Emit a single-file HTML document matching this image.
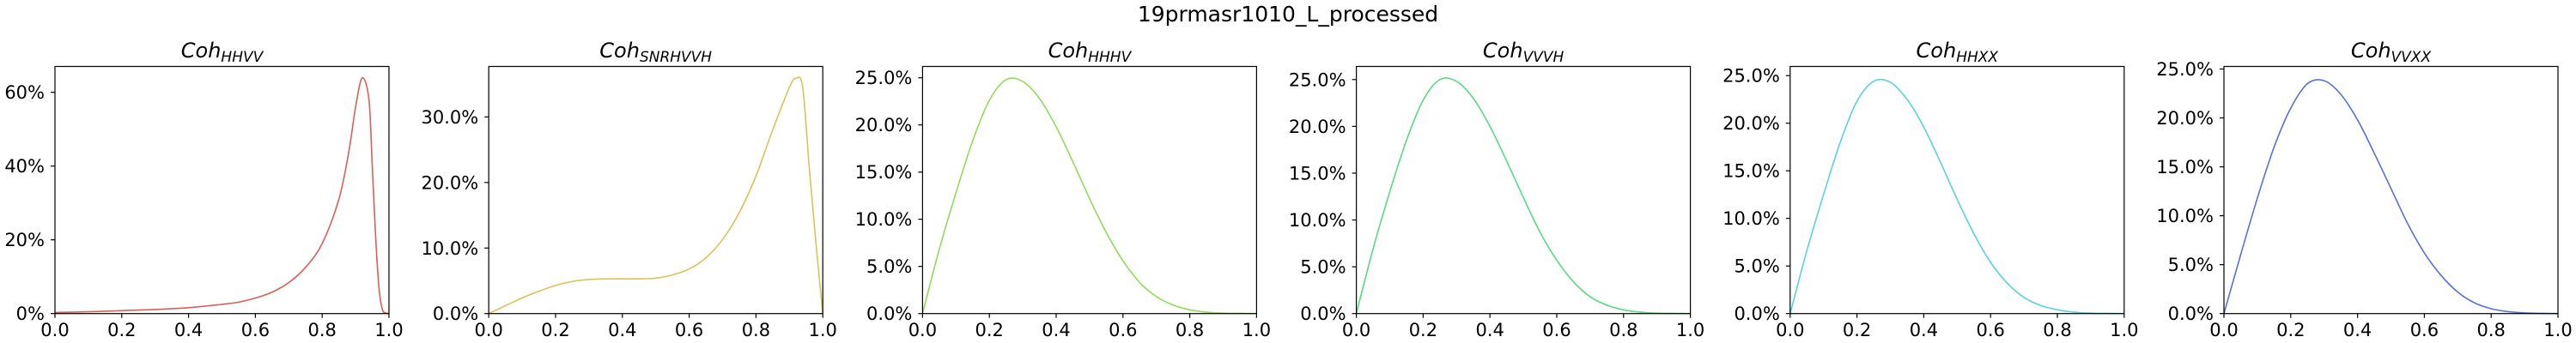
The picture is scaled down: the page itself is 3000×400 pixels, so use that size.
<!DOCTYPE html>
<html><head><meta charset="utf-8">
<style>
html,body{margin:0;padding:0;background:#fff;}
svg{display:block;font-family:"DejaVu Sans","Liberation Sans",sans-serif;}
</style></head>
<body>
<svg id="fig" width="3000" height="400" viewBox="0 0 3000 400" xmlns="http://www.w3.org/2000/svg">
<rect width="3000" height="400" fill="#fff"/>
<text x="1500" y="25" font-size="25" text-anchor="middle">19prmasr1010_L_processed</text>
</svg>
<script>
// --- chart data ---
const panelSubs = ["HHVV","SNRHVVH","HHHV","VVVH","HHXX","VVXX"];
const panelColors = ["#db5f57","#dbc257","#91db57","#57db80","#57d3db","#5770db"];
const yMaxes = [67.0, 37.7, 26.2, 26.4, 25.96, 25.26];
const yTickSets = [[0,20,40,60],[0,10,20,30],[0,5,10,15,20,25],[0,5,10,15,20,25],[0,5,10,15,20,25],[0,5,10,15,20,25]];
const yTickDecimals = [0,1,1,1,1,1];
const xTicks = [0,0.2,0.4,0.6,0.8,1.0];
const xHHVV = [0,0.1,0.2,0.3,0.4,0.5,0.55,0.6,0.65,0.7,0.75,0.8,0.85,0.88,0.9,0.92,0.94,0.95,0.96,0.97,0.98,0.99,1.0];
const yHHVV = [0.3,0.5,0.8,1.1,1.6,2.5,3.1,4.2,5.8,8.4,12.5,19,31,44,56,63.9,58,40,21,7,1.2,0.2,0];
const xSNR = [0,0.05,0.1,0.15,0.2,0.25,0.3,0.35,0.4,0.45,0.5,0.55,0.6,0.65,0.7,0.75,0.8,0.85,0.9,0.92,0.94,0.96,0.98,1.0];
const ySNR = [0,1.2,2.4,3.4,4.3,4.9,5.2,5.3,5.3,5.3,5.4,5.9,6.8,8.5,11.3,15.4,21,28,34.5,35.9,34.5,22,10.5,0];
const xBell = [0,0.05,0.1,0.15,0.2,0.25,0.3,0.35,0.4,0.45,0.5,0.55,0.6,0.65,0.7,0.75,0.8,0.85,0.9,0.95,1.0];
const yHHHV = [0,6.8,12.8,18.3,22.6,24.8,24.6,22.8,19.8,16.1,12.2,8.6,5.6,3.3,1.8,0.9,0.4,0.15,0.05,0.02,0];
const yVVVH = [0,6.9,13.0,18.5,22.8,25.0,24.8,23.0,20.0,16.3,12.4,8.7,5.7,3.4,1.8,0.9,0.4,0.15,0.05,0.02,0];
const yHHXX = [0,6.6,12.5,18.0,22.3,24.4,24.3,22.5,19.6,15.9,12.0,8.4,5.4,3.2,1.7,0.85,0.4,0.15,0.05,0.02,0];
const yVVXX = [0,6.0,11.8,17.0,21.0,23.5,23.8,22.4,19.8,16.4,12.8,9.2,6.2,3.9,2.2,1.1,0.5,0.2,0.07,0.02,0];
const seriesX = [xHHVV, xSNR, xBell, xBell, xBell, xBell];
const seriesY = [yHHVV, ySNR, yHHHV, yVVVH, yHHXX, yVVXX];

const NS = "http://www.w3.org/2000/svg";
const svg = document.getElementById('fig');
const AX_LEFT0 = 64, AX_STEP = 505.2, AX_W = 389, AX_TOP = 77.5, AX_BOT = 365.7;
function mk(tag, attrs, parent){const e=document.createElementNS(NS,tag);for(const k in attrs)e.setAttribute(k,attrs[k]);(parent||svg).appendChild(e);return e;}
function catmull(pts){
  let d="M"+pts[0][0].toFixed(2)+","+pts[0][1].toFixed(2);
  for(let i=0;i<pts.length-1;i++){
    const p0=pts[Math.max(0,i-1)],p1=pts[i],p2=pts[i+1],p3=pts[Math.min(pts.length-1,i+2)];
    const c1x=p1[0]+(p2[0]-p0[0])/6,c1y=p1[1]+(p2[1]-p0[1])/6;
    const c2x=p2[0]-(p3[0]-p1[0])/6,c2y=p2[1]-(p3[1]-p1[1])/6;
    d+=" C"+c1x.toFixed(2)+","+c1y.toFixed(2)+" "+c2x.toFixed(2)+","+c2y.toFixed(2)+" "+p2[0].toFixed(2)+","+p2[1].toFixed(2);
  }
  return d;
}
for(let p=0;p<6;p++){
  const left=AX_LEFT0+p*AX_STEP, right=left+AX_W;
  const xs=v=>left+v*AX_W;
  const ys=v=>AX_BOT-(v/yMaxes[p])*(AX_BOT-AX_TOP);
  const g=mk('g',{});
  
  
  const t=mk('text',{x:left+AX_W/2,y:67,'font-size':24,'text-anchor':'middle','font-style':'italic'},g);
  
  
  t.textContent='Coh';
  const ts=mk('tspan',{'font-size':17,dy:5},t);
  ts.textContent=panelSubs[p];
  // line
  const pts=seriesX[p].map((x,i)=>[xs(x),ys(seriesY[p][i])]);
  const path=mk('path',{d:catmull(pts),fill:'none',stroke:panelColors[p],'stroke-width':1.6},g);
  
  
  // frame
  const fr=mk('rect',{x:left,y:AX_TOP,width:AX_W,height:AX_BOT-AX_TOP,fill:'none',stroke:'#000','stroke-width':1.2},g);
  
  
  // x ticks
  xTicks.forEach(v=>{
    mk('line',{x1:xs(v),x2:xs(v),y1:AX_BOT,y2:AX_BOT+5,stroke:'#000','stroke-width':1.2},g);
    const l=mk('text',{x:xs(v),y:392,'font-size':21,'text-anchor':'middle'},g);
    
    
    l.textContent=v.toFixed(1);
  });
  // y ticks
  yTickSets[p].forEach(v=>{
    mk('line',{x1:left-5,x2:left,y1:ys(v),y2:ys(v),stroke:'#000','stroke-width':1.2},g);
    const l=mk('text',{x:left-12,y:ys(v)+7.5,'font-size':21,'text-anchor':'end'},g);
    
    
    l.textContent=v.toFixed(yTickDecimals[p])+'%';
  });
}
</script>
</body></html>
